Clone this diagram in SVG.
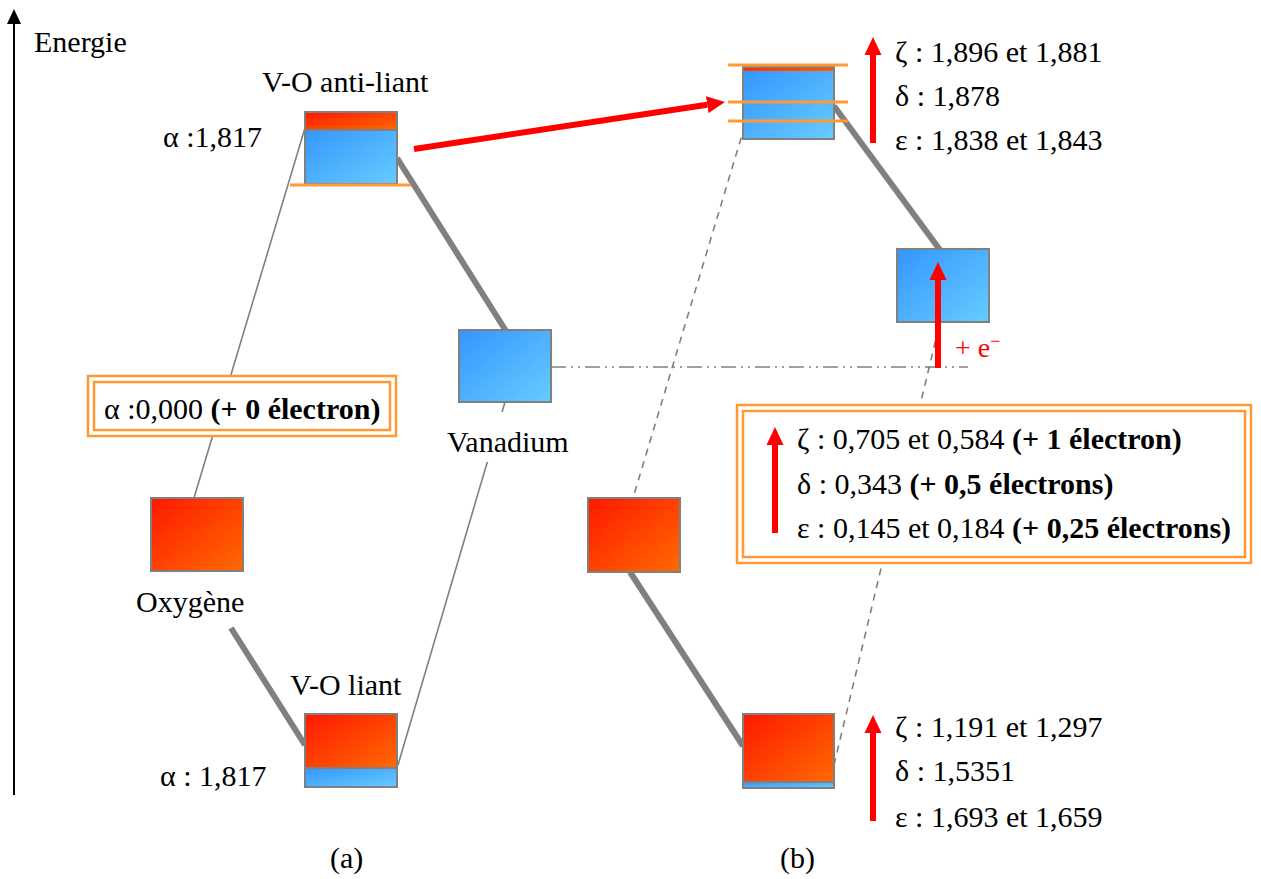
<svg xmlns="http://www.w3.org/2000/svg" width="1261" height="879" viewBox="0 0 1261 879">
<style>
text{font-family:"Liberation Serif","Times New Roman",serif;font-size:30px;fill:#000}
.b{font-weight:bold}
.box{stroke:#808080;stroke-width:2}
.sep{stroke:#808080;stroke-width:2}
.thin{stroke:#808080;stroke-width:1.6;fill:none}
.thick{stroke:#808080;stroke-width:6;fill:none}
.dash{stroke:#808080;stroke-width:1.6;fill:none;stroke-dasharray:7 6}
.dd{stroke:#808080;stroke-width:1.6;fill:none;stroke-dasharray:15 5 2 5 2 5}
.or{stroke:#FF9933;stroke-width:3;fill:none}
.dbl{stroke:#FF9933;stroke-width:2.5;fill:#fff}
.dbl2{stroke:#FF9933;stroke-width:2.5;fill:none}
.red{stroke:#FF0000;stroke-width:6;fill:none;marker-end:url(#rh)}
</style>
<defs>
<linearGradient id="gr" x1="0" y1="0" x2="1" y2="1"><stop offset="0" stop-color="#FF1800"/><stop offset="1" stop-color="#FF6A00"/></linearGradient>
<linearGradient id="gb" x1="0" y1="0" x2="1" y2="1"><stop offset="0" stop-color="#3496FF"/><stop offset="1" stop-color="#66CCFF"/></linearGradient>
<marker id="rh" viewBox="0 -9 19 18" markerWidth="19" markerHeight="18" refX="0" refY="0" markerUnits="userSpaceOnUse" orient="auto"><path d="M0,-8.5 L18,0 L0,8.5 Z" fill="#FF0000"/></marker>
<marker id="kh" viewBox="0 -8 16 16" markerWidth="16" markerHeight="16" refX="0" refY="0" markerUnits="userSpaceOnUse" orient="auto"><path d="M0,-7 L15,0 L0,7 Z" fill="#000"/></marker>
</defs>
<rect width="1261" height="879" fill="#fff"/>

<g id="axis">
<line x1="14" y1="795" x2="14" y2="24" stroke="#000" stroke-width="2" marker-end="url(#kh)"/>
<text x="34" y="52">Energie</text>
</g>

<g id="connectors">
<line class="thin" x1="305" y1="128" x2="194" y2="498"/>
<line class="thick" x1="397" y1="158" x2="506" y2="331"/>
<line class="thick" x1="231" y1="628" x2="305" y2="745"/>
<line class="thin" x1="505" y1="402" x2="398" y2="765"/>
<line class="dash" x1="745" y1="125" x2="633" y2="498"/>
<line class="thick" x1="834" y1="106" x2="940" y2="250"/>
<line class="dd" x1="551" y1="367" x2="968" y2="367"/>
<line class="dash" x1="834" y1="765" x2="940" y2="322"/>
<line class="thick" x1="630" y1="572" x2="743" y2="746"/>
<line class="red" x1="414" y1="149" x2="707.2" y2="104.7"/>
</g>

<g id="antiliant-a">
<text x="262" y="92">V-O anti-liant</text>
<text x="163" y="147">α :1,817</text>
<rect x="305" y="112" width="92" height="18" fill="url(#gr)"/>
<rect x="305" y="130" width="92" height="54" fill="url(#gb)"/>
<rect class="box" x="305" y="112" width="92" height="72" fill="none"/>
<line class="sep" x1="305" y1="130" x2="397" y2="130"/>
<line class="or" x1="290" y1="185" x2="411" y2="185"/>
</g>

<g id="vanadium-a">
<rect class="box" x="459" y="330" width="92" height="72" fill="url(#gb)"/>
<rect x="444" y="412" width="132" height="50" fill="#fff"/>
<text x="447" y="452">Vanadium</text>
</g>

<g id="alpha-box-a">
<rect class="dbl" x="88" y="376" width="308" height="60"/>
<rect class="dbl2" x="94" y="382" width="296" height="48"/>
<text x="104" y="419">α :0,000 <tspan class="b">(+ 0 électron)</tspan></text>
</g>

<g id="oxygene-a">
<rect class="box" x="151" y="498" width="92" height="73" fill="url(#gr)"/>
<text x="136" y="612">Oxygène</text>
</g>

<g id="liant-a">
<text x="290" y="695">V-O liant</text>
<text x="160" y="786">α : 1,817</text>
<rect x="305" y="714" width="92" height="54" fill="url(#gr)"/>
<rect x="305" y="768" width="92" height="19" fill="url(#gb)"/>
<rect class="box" x="305" y="714" width="92" height="73" fill="none"/>
<line class="sep" x1="305" y1="768" x2="397" y2="768"/>
</g>

<g id="antiliant-b">
<rect x="743" y="67" width="91" height="4" fill="url(#gr)"/>
<rect x="743" y="71" width="91" height="68" fill="url(#gb)"/>
<rect class="box" x="743" y="67" width="91" height="72" fill="none"/>
<line class="or" x1="728" y1="65" x2="848" y2="65"/>
<line class="or" x1="728" y1="102" x2="848" y2="102"/>
<line class="or" x1="728" y1="121" x2="848" y2="121"/>
<line class="red" x1="873" y1="143" x2="873" y2="55"/>
<text x="895" y="62">ζ : 1,896 et 1,881</text>
<text x="895" y="106">δ : 1,878</text>
<text x="895" y="150">ε : 1,838 et 1,843</text>
</g>

<g id="vanadium-b">
<rect class="box" x="897" y="249" width="92" height="73" fill="url(#gb)"/>
<line class="red" x1="938" y1="368" x2="938" y2="280"/>
<text x="955" y="357" style="fill:#FF0000;font-size:28px">+ e<tspan dy="-10" style="font-size:18px">−</tspan></text>
</g>

<g id="alpha-box-b">
<rect class="dbl" x="737" y="405" width="514" height="158"/>
<rect class="dbl2" x="743" y="411" width="502" height="146"/>
<line class="red" x1="775" y1="533" x2="775" y2="445"/>
<text x="797" y="449">ζ : 0,705 et 0,584 <tspan class="b">(+ 1 électron)</tspan></text>
<text x="797" y="494">δ : 0,343 <tspan class="b">(+ 0,5 électrons)</tspan></text>
<text x="797" y="538">ε : 0,145 et 0,184 <tspan class="b">(+ 0,25 électrons)</tspan></text>
</g>

<g id="oxygene-b">
<rect class="box" x="588" y="498" width="92" height="74" fill="url(#gr)"/>
</g>

<g id="liant-b">
<rect x="743" y="714" width="91" height="68" fill="url(#gr)"/>
<rect x="743" y="782" width="91" height="6" fill="url(#gb)"/>
<rect class="box" x="743" y="714" width="91" height="74" fill="none"/>
<line class="sep" x1="743" y1="782" x2="834" y2="782"/>
<line class="red" x1="873" y1="821" x2="873" y2="733"/>
<text x="895" y="737">ζ : 1,191 et 1,297</text>
<text x="895" y="781">δ : 1,5351</text>
<text x="895" y="827">ε : 1,693 et 1,659</text>
</g>

<g id="labels">
<text x="330" y="868">(a)</text>
<text x="780" y="868">(b)</text>
</g>
</svg>
